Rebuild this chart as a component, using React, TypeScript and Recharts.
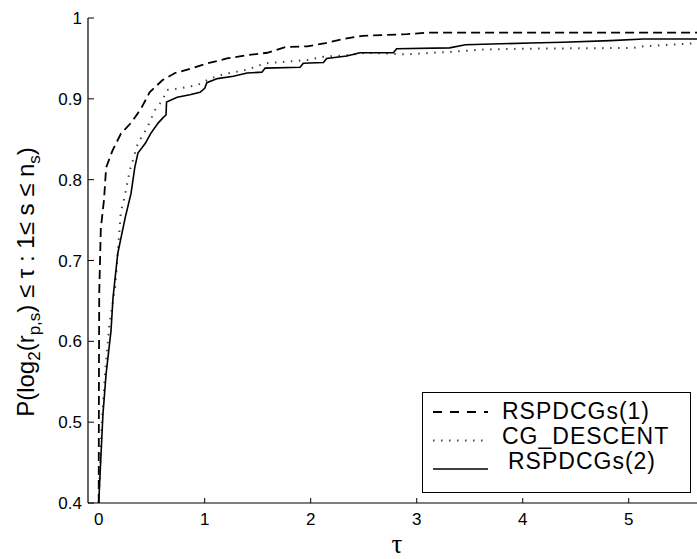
import React from 'react';
import { LineChart, Line, XAxis, YAxis, Legend } from 'recharts';

// performance profile values
const rsp1Tau = [0, 0.002, 0.005, 0.02, 0.05, 0.07, 0.13, 0.21, 0.31, 0.4, 0.48, 0.6, 0.72, 0.86, 1.03, 1.21, 1.4, 1.59, 1.76, 1.97, 2.14, 2.31, 2.49, 2.72, 2.91, 3.12, 5.65];
const rsp1P = [0.4, 0.55, 0.66, 0.74, 0.775, 0.815, 0.836, 0.857, 0.871, 0.888, 0.908, 0.923, 0.932, 0.937, 0.944, 0.95, 0.954, 0.957, 0.964, 0.965, 0.969, 0.974, 0.978, 0.979, 0.98, 0.982, 0.982];

const cgTau = [0, 0.03, 0.06, 0.1, 0.155, 0.21, 0.23, 0.295, 0.37, 0.46, 0.53, 0.6, 0.645, 0.77, 0.93, 1.05, 1.17, 1.27, 1.4, 1.57, 1.97, 2.12, 2.34, 2.53, 2.91, 3.15, 3.31, 3.63, 4.0, 5.04, 5.14, 5.65];
const cgP = [0.4, 0.5, 0.56, 0.62, 0.667, 0.762, 0.77, 0.812, 0.845, 0.865, 0.886, 0.898, 0.911, 0.913, 0.917, 0.925, 0.93, 0.933, 0.936, 0.944, 0.948, 0.952, 0.954, 0.957, 0.955, 0.957, 0.958, 0.961, 0.962, 0.963, 0.965, 0.969];

const rsp2Tau = [0, 0.04, 0.07, 0.116, 0.135, 0.18, 0.25, 0.305, 0.34, 0.37, 0.44, 0.49, 0.56, 0.61, 0.635, 0.64, 0.74, 0.86, 0.956, 1.0, 1.02, 1.12, 1.27, 1.4, 1.54, 1.57, 1.9, 1.93, 2.12, 2.15, 2.34, 2.465, 2.78, 2.81, 3.31, 3.46, 4.07, 4.38, 4.825, 5.14, 5.65];
const rsp2P = [0.4, 0.51, 0.56, 0.613, 0.654, 0.709, 0.753, 0.783, 0.815, 0.833, 0.845, 0.857, 0.87, 0.877, 0.88, 0.896, 0.902, 0.905, 0.908, 0.913, 0.92, 0.925, 0.928, 0.932, 0.933, 0.938, 0.939, 0.944, 0.945, 0.95, 0.953, 0.957, 0.957, 0.962, 0.963, 0.967, 0.969, 0.97, 0.972, 0.974, 0.974];

const xTicks = [0, 1, 2, 3, 4, 5];
const yTicks = [0.4, 0.5, 0.6, 0.7, 0.8, 0.9, 1];
const seriesNames = ['RSPDCGs(1)', 'CG_DESCENT', 'RSPDCGs(2)'];

const zip = (xs: number[], ys: number[]) => xs.map((x, i) => ({ x, y: ys[i] }));

const font = '"Liberation Sans", Arial, sans-serif';

const BottomTick = (props: any) => {
  const { x, y, payload } = props;
  return (
    <g>
      <line x1={x} y1={y} x2={x} y2={y - 5} stroke="#000" />
      <text x={x} y={y + 10} dy="0.71em" textAnchor="middle" fontSize={17} fontFamily={font} fill="#000">
        {payload.value}
      </text>
    </g>
  );
};

const TopTick = (props: any) => {
  const { x, y } = props;
  return <line x1={x} y1={y} x2={x} y2={y + 6} stroke="#000" />;
};

const LeftTick = (props: any) => {
  const { x, y, payload } = props;
  return (
    <g>
      <line x1={x} y1={y} x2={x + 6} y2={y} stroke="#000" />
      <text x={x - 6} y={y} dy="0.36em" textAnchor="end" fontSize={17} fontFamily={font} fill="#000">
        {payload.value}
      </text>
    </g>
  );
};

const YLabel = () => (
  <text transform="translate(34, 282) rotate(-90)" textAnchor="middle" fontSize={24} fontFamily={font} fill="#000">
    P(log
    <tspan fontSize={17} dy={6}>2</tspan>
    <tspan dy={-6}>(r</tspan>
    <tspan fontSize={17} dy={6}>p,s</tspan>
    <tspan dy={-6}>) ≤ τ : 1≤ s ≤ n</tspan>
    <tspan fontSize={17} dy={6}>s</tspan>
    <tspan dy={-6}>)</tspan>
  </text>
);

const XLabel = () => (
  <text x={397} y={553} textAnchor="middle" fontSize={27} fontFamily='"Liberation Serif", serif' fill="#000">
    τ
  </text>
);

const legendStyles = [
  { dash: '9 8', width: 1.8, color: '#000' },
  { dash: '1.5 6.5', width: 2, color: '#444' },
  { dash: undefined, width: 1.6, color: '#000' },
];

const LegendBox = () => (
  <svg width={269} height={101} style={{ display: 'block' }}>
    <rect x={0.5} y={0.5} width={268} height={100} fill="#fff" stroke="#000" />
    {seriesNames.map((name, i) => (
      <g key={name}>
        <line
          x1={11}
          x2={66}
          y1={20 + i * 28.5}
          y2={20 + i * 28.5}
          stroke={legendStyles[i].color}
          strokeWidth={legendStyles[i].width}
          strokeDasharray={legendStyles[i].dash}
        />
        <text x={i === 2 ? 86 : 80} y={27 + i * 25} fontSize={23} letterSpacing={1} fontFamily={font} fill="#000">
          {name}
        </text>
      </g>
    ))}
  </svg>
);

export default function App() {
  return (
    <div style={{ position: 'absolute', left: 0, top: 0, width: 697, height: 559, background: '#fff', overflow: 'hidden' }}>
      <LineChart width={697} height={559} margin={{ top: 18, right: 0, bottom: 0, left: 0 }}>
        <XAxis
          xAxisId="bottom"
          dataKey="x"
          type="number"
          domain={[-0.101, 5.644]}
          allowDataOverflow
          ticks={xTicks}
          interval={0}
          height={56}
          tickSize={0}
          tickMargin={0}
          tickLine={false}
          axisLine={{ stroke: '#000', strokeWidth: 1.2 }}
          tick={BottomTick}
          label={<XLabel />}
        />
        <XAxis
          xAxisId="top"
          orientation="top"
          dataKey="x"
          type="number"
          domain={[-0.101, 5.644]}
          allowDataOverflow
          ticks={xTicks}
          interval={0}
          height={0}
          tickSize={0}
          tickMargin={0}
          tickLine={false}
          axisLine={{ stroke: '#000', strokeWidth: 1.2 }}
          tick={TopTick}
        />
        <YAxis
          type="number"
          domain={[0.4, 1]}
          allowDataOverflow
          ticks={yTicks}
          interval={0}
          width={88}
          tickSize={0}
          tickMargin={0}
          tickLine={false}
          axisLine={{ stroke: '#000', strokeWidth: 1.2 }}
          tick={LeftTick}
          label={<YLabel />}
        />
        <Legend
          layout="vertical"
          align="center"
          verticalAlign="middle"
          wrapperStyle={{ left: 422, top: 392, width: 269, height: 101 }}
          content={() => <LegendBox />}
        />
        <Line
          xAxisId="bottom"
          data={zip(rsp1Tau, rsp1P)}
          dataKey="y"
          name={seriesNames[0]}
          type="linear"
          stroke="#000"
          strokeWidth={1.8}
          strokeDasharray="9 5"
          dot={false}
          isAnimationActive={false}
        />
        <Line
          xAxisId="bottom"
          data={zip(cgTau, cgP)}
          dataKey="y"
          name={seriesNames[1]}
          type="linear"
          stroke="#444"
          strokeWidth={2}
          strokeDasharray="1.5 6.5"
          dot={false}
          isAnimationActive={false}
        />
        <Line
          xAxisId="bottom"
          data={zip(rsp2Tau, rsp2P)}
          dataKey="y"
          name={seriesNames[2]}
          type="linear"
          stroke="#000"
          strokeWidth={1.6}
          dot={false}
          isAnimationActive={false}
        />
      </LineChart>
    </div>
  );
}
